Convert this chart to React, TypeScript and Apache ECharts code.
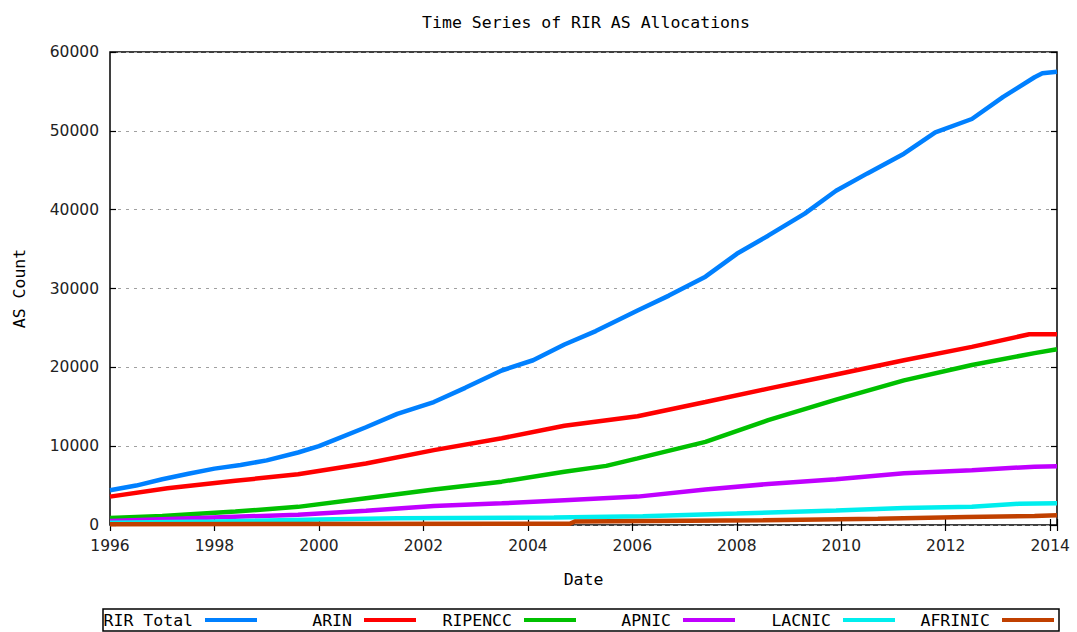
import React, { useEffect, useRef } from "react";
import * as echarts from "echarts";

const seriesNames = ["RIR Total", "ARIN", "RIPENCC", "APNIC", "LACNIC", "AFRINIC"];
const seriesColors = ["#0080ff", "#ff0000", "#00c000", "#c000ff", "#00eeee", "#c04000"];

const rirTotal: [number, number][] = [
  [1996.0, 4400], [1996.5, 5000], [1997.0, 5800], [1997.5, 6500], [1998.0, 7150],
  [1998.5, 7600], [1999.0, 8200], [1999.6, 9200], [2000.0, 10000], [2000.3, 10800],
  [2000.9, 12400], [2001.5, 14100], [2002.2, 15600], [2002.8, 17400], [2003.5, 19600],
  [2004.1, 20900], [2004.7, 22900], [2005.3, 24600], [2006.1, 27200], [2006.7, 29100],
  [2007.4, 31500], [2008.0, 34400], [2008.6, 36700], [2009.3, 39500], [2009.9, 42400],
  [2010.5, 44600], [2011.2, 47100], [2011.8, 49800], [2012.5, 51500], [2013.1, 54300],
  [2013.7, 56800], [2013.85, 57300], [2014.13, 57500],
];
const arin: [number, number][] = [
  [1996.0, 3600], [1997.1, 4650], [1998.4, 5600], [1999.6, 6450], [2000.9, 7800],
  [2002.2, 9500], [2003.5, 11000], [2004.7, 12600], [2006.1, 13800], [2007.4, 15600],
  [2008.6, 17300], [2009.9, 19100], [2011.2, 20900], [2012.5, 22600], [2013.6, 24200],
  [2014.13, 24200],
];
const ripencc: [number, number][] = [
  [1996.0, 900], [1997.0, 1150], [1998.4, 1700], [1999.6, 2300], [2000.9, 3400],
  [2002.2, 4500], [2003.5, 5500], [2004.7, 6750], [2005.5, 7500], [2006.1, 8450],
  [2007.4, 10550], [2008.6, 13300], [2009.9, 15900], [2011.2, 18350], [2012.5, 20300],
  [2013.7, 21800], [2014.13, 22300],
];
const apnic: [number, number][] = [
  [1996.0, 500], [1997.7, 900], [1999.6, 1300], [2000.9, 1800], [2002.2, 2400],
  [2003.5, 2750], [2004.7, 3150], [2006.1, 3600], [2007.4, 4500], [2008.6, 5200],
  [2009.9, 5800], [2011.2, 6550], [2012.5, 6950], [2013.7, 7400], [2014.13, 7450],
];
const lacnic: [number, number][] = [
  [1996.0, 300], [1998.0, 450], [2000.0, 700], [2001.5, 850], [2004.5, 950],
  [2006.2, 1100], [2008.0, 1450], [2009.9, 1850], [2011.2, 2150], [2012.5, 2300],
  [2013.4, 2700], [2014.13, 2750],
];
const afrinic: [number, number][] = [
  [1996.0, 100], [2004.8, 150], [2004.9, 450], [2008.5, 600], [2010.7, 800],
  [2012.4, 1000], [2013.7, 1150], [2014.13, 1250],
];

const seriesData = [rirTotal, arin, ripencc, apnic, lacnic, afrinic];
const legendSampleEnds = [257, 416, 576, 735, 895, 1054];

const X_MIN = 1996;
const X_MAX = 2014.13;
const Y_MIN = 0;
const Y_MAX = 60000;

const monoFont = "DejaVu Sans Mono";
const sansFont = "DejaVu Sans";

export default function App() {
  const ref = useRef<HTMLDivElement>(null);
  useEffect(() => {
    if (!ref.current) return;
    const chart = echarts.init(ref.current, null, { renderer: "svg" });
    const tick = { inside: true, length: 6, lineStyle: { color: "#000", width: 1.2 } };
    const xFmt = (v: number) => (Number.isInteger(v) && v % 2 === 0 ? String(v) : "");
    const yFmt = (v: number) => String(v);
    chart.setOption({
      animation: false,
      backgroundColor: "#fff",
      title: {
        text: "Time Series of RIR AS Allocations",
        left: 581,
        textAlign: "center",
        top: 9,
        textStyle: { fontFamily: monoFont, fontSize: 16.5, fontWeight: "normal", color: "#000" },
      },
      grid: {
        left: 110,
        right: 20,
        top: 52,
        bottom: 107,
        show: true,
        borderColor: "#000",
        borderWidth: 1.5,
        backgroundColor: "transparent",
      },
      xAxis: [
        {
          type: "value",
          min: X_MIN,
          max: X_MAX,
          interval: 2,
          name: "Date",
          nameLocation: "middle",
          nameGap: 46,
          nameTextStyle: { fontFamily: monoFont, fontSize: 16.5, color: "#000" },
          axisLine: { show: false },
          axisTick: tick,
          axisLabel: {
            formatter: xFmt,
            fontFamily: sansFont,
            fontSize: 15.5,
            color: "#222",
            margin: 13,
          },
          splitLine: { show: false },
        },
        {
          type: "value",
          position: "top",
          min: X_MIN,
          max: X_MAX,
          interval: 2,
          axisLine: { show: false },
          axisTick: tick,
          axisLabel: { show: false },
          splitLine: { show: false },
        },
      ],
      yAxis: [
        {
          type: "value",
          min: Y_MIN,
          max: Y_MAX,
          interval: 10000,
          name: "AS Count",
          nameLocation: "middle",
          nameGap: 82,
          nameTextStyle: { fontFamily: monoFont, fontSize: 16.5, color: "#000" },
          axisLine: { show: false },
          axisTick: tick,
          axisLabel: { formatter: yFmt, fontFamily: sansFont, fontSize: 15.5, color: "#222", margin: 11 },
          splitLine: { show: true, lineStyle: { color: "#a0a0a0", width: 1, type: [3, 5] } },
        },
        {
          type: "value",
          position: "right",
          min: Y_MIN,
          max: Y_MAX,
          interval: 10000,
          axisLine: { show: false },
          axisTick: tick,
          axisLabel: { show: false },
          splitLine: { show: false },
        },
      ],
      legend: seriesNames.map((name, i) => ({
        data: [name],
        right: 1077 - legendSampleEnds[i],
        top: 610,
        align: "right",
        orient: "horizontal",
        icon: "rect",
        itemWidth: 52,
        itemHeight: 4,
        padding: 0,
        selectedMode: false,
        textStyle: {
          fontFamily: monoFont,
          fontSize: 16.5,
          color: "#000",
          lineHeight: 20,
          padding: [0, 7, 0, 0],
        },
      })),
      graphic: [
        {
          type: "rect",
          shape: { x: 103, y: 609, width: 956, height: 22 },
          style: { fill: "none", stroke: "#000", lineWidth: 1.5 },
          z: 10,
        },
      ],
      series: seriesNames.map((name, i) => ({
        name,
        type: "line",
        xAxisIndex: 0,
        yAxisIndex: 0,
        data: seriesData[i],
        showSymbol: false,
        symbol: "none",
        color: seriesColors[i],
        lineStyle: { color: seriesColors[i], width: 4.5 },
      })),
    });
    return () => chart.dispose();
  }, []);
  return (
    <div
      ref={ref}
      style={{ position: "fixed", left: 0, top: 0, width: 1077, height: 632, background: "#fff" }}
    />
  );
}
